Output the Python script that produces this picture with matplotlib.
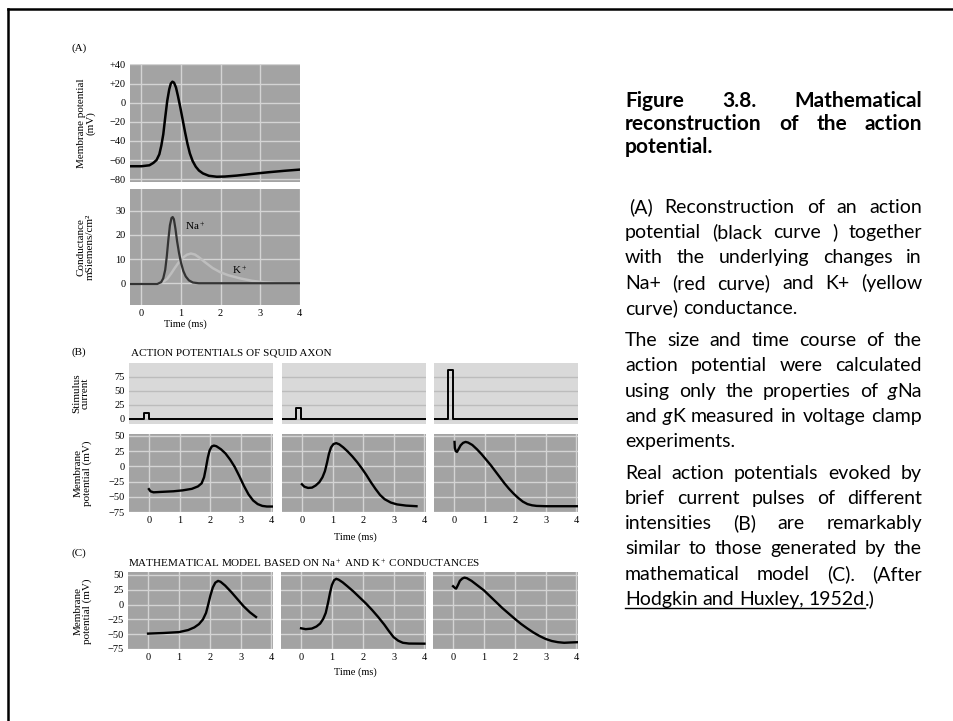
import matplotlib
matplotlib.use("Agg")
import matplotlib.pyplot as plt
from matplotlib.lines import Line2D

W, H = 954, 721

# ---------------- data ----------------
# (A) computed action potential (ms, mV)
ap_t = [-0.29, 0.0, 0.2, 0.3, 0.38, 0.45, 0.5, 0.55, 0.6, 0.65, 0.7, 0.74, 0.78,
        0.82, 0.87, 0.92, 0.98, 1.04, 1.1, 1.16, 1.22, 1.29, 1.37, 1.45, 1.55,
        1.7, 1.9, 2.1, 2.4, 2.8, 3.2, 3.6, 4.0]
ap_v = [-66.5, -66.5, -65.5, -63, -60, -54, -45, -33, -15, 2, 14, 20, 22,
        21, 16, 7, -5, -18, -31, -43, -53, -61, -67, -71, -74,
        -76.5, -77.5, -77.3, -76.3, -74.5, -72.8, -71.3, -70]

# (A) conductances (mS/cm2)
na_t = [-0.29, 0.4, 0.5, 0.55, 0.6, 0.64, 0.68, 0.72, 0.76, 0.79, 0.82, 0.86,
        0.9, 0.95, 1.0, 1.06, 1.12, 1.2, 1.3, 1.45, 4.0]
na_g = [-0.3, -0.3, 0.5, 2, 5.5, 11, 18, 24, 27, 27.4, 26.5, 22.5,
        17.5, 12.5, 8.5, 5, 2.8, 1.2, 0.3, 0, 0]
k_t = [0.45, 0.55, 0.65, 0.75, 0.85, 0.95, 1.05, 1.15, 1.25, 1.35, 1.45, 1.6,
       1.8, 2.0, 2.2, 2.5, 2.8, 3.1, 3.4, 4.0]
k_g = [0, 0.6, 1.8, 4, 6.5, 8.8, 10.6, 11.8, 12.3, 11.9, 10.8, 8.8,
       6.3, 4.5, 3.3, 2.0, 1.0, 0.4, 0.1, 0]

# (B) stimulus pulses: onset, offset (ms), amplitude
stim_on = [-0.16, -0.2, -0.19]
stim_off = [0.0, -0.02, -0.02]
stim_amp = [10, 20, 87]

# (B) recorded action potentials
b1_t = [0, 0.05, 0.15, 0.4, 0.8, 1.1, 1.4, 1.6, 1.72, 1.8, 1.86, 1.92, 1.98,
        2.05, 2.12, 2.2, 2.35, 2.5, 2.65, 2.8, 2.95, 3.1, 3.25, 3.4, 3.55,
        3.7, 3.85, 4.05]
b1_v = [-37.5, -41, -42.7, -42, -41, -39.5, -37, -33, -28, -18, -3, 14, 26,
        32.5, 34, 33, 28, 21, 11, -1, -16, -32, -46, -56, -62,
        -65, -66, -66]
b2_t = [0, 0.08, 0.2, 0.33, 0.45, 0.57, 0.67, 0.75, 0.82, 0.88, 0.95, 1.03,
        1.12, 1.22, 1.35, 1.5, 1.65, 1.8, 1.95, 2.1, 2.25, 2.4, 2.55, 2.7,
        2.9, 3.1, 3.4, 3.74]
b2_v = [-29.5, -33.5, -35.5, -35, -31.5, -26, -18, -8, 6, 20, 31, 36.5,
        38, 36, 31, 24, 16, 7, -3, -14, -26, -37, -47, -54,
        -59.5, -62.5, -64.5, -65.5]
b3_t = [0.02, 0.03, 0.06, 0.1, 0.15, 0.22, 0.3, 0.38, 0.46, 0.6, 0.75, 0.9,
        1.05, 1.2, 1.35, 1.5, 1.65, 1.8, 1.95, 2.1, 2.25, 2.4, 2.55, 2.7,
        3.0, 4.05]
b3_v = [40, 30, 25, 23.5, 28, 34.5, 38.5, 40, 39, 35, 28, 20,
        11, 2, -8, -18, -28, -37, -45, -52, -58, -62, -64, -65,
        -65.5, -65.5]

# (C) model action potentials
c1_t = [0, 0.5, 1.0, 1.3, 1.5, 1.65, 1.78, 1.88, 1.95, 2.02, 2.1, 2.18, 2.27,
        2.35, 2.5, 2.7, 2.9, 3.1, 3.3, 3.5]
c1_v = [-49, -48, -46.5, -43, -38.5, -33, -25, -14, 0, 15, 29, 37, 40,
        38.5, 32, 21, 9, -3, -13, -21]
c2_t = [0, 0.15, 0.35, 0.5, 0.62, 0.72, 0.8, 0.87, 0.94, 1.0, 1.07, 1.14,
        1.22, 1.35, 1.5, 1.7, 1.9, 2.1, 2.3, 2.5, 2.7, 2.85, 3.0, 3.15,
        3.3, 3.5, 4.0]
c2_v = [-40, -41.5, -40.5, -37, -32, -24, -14, 2, 20, 33, 41, 43.5,
        42, 37.5, 31, 22, 12, 2, -9, -21, -34, -45, -55, -61,
        -64.5, -65.8, -66]
c3_t = [0, 0.06, 0.1, 0.16, 0.22, 0.3, 0.37, 0.45, 0.6, 0.8, 1.0, 1.2, 1.4,
        1.6, 1.8, 2.0, 2.2, 2.4, 2.6, 2.8, 3.0, 3.2, 3.4, 3.6, 3.8, 4.05]
c3_v = [31, 28, 27, 33, 40, 44, 45.5, 44.5, 40, 32, 24, 14, 4,
        -6, -15, -24, -32.5, -40, -47, -53, -58, -61.5, -63.5, -64.5, -64, -63.5]

a1_ticks = [40, 20, 0, -20, -40, -60, -80]
a1_labels = ["+40", "+20", "0", "\u221220", "\u221240", "\u221260", "\u221280"]
a2_ticks = [0, 10, 20, 30]
stim_ticks = [0, 25, 50, 75]
mem_ticks = [50, 25, 0, -25, -50, -75]
time_ticks = [0, 1, 2, 3, 4]

# ---------------- styling ----------------
plt.rcParams["font.family"] = ["Liberation Serif", "DejaVu Serif"]
plt.rcParams["mathtext.fontset"] = "custom"
plt.rcParams["mathtext.rm"] = "Liberation Serif"
plt.rcParams["mathtext.it"] = "Liberation Serif:italic"

DARK_BG = "#a3a3a3"
LIGHT_BG = "#d9d9d9"
GRID_LIGHT = "#d4d4d4"
GRID_DARK = "#bcbcbc"
TICK_FS = 7.5

fig = plt.figure(figsize=(W / 100, H / 100), dpi=100)
fig.patch.set_facecolor("white")


def px_axes(l, t, r, b):
    return fig.add_axes([l / W, 1 - b / H, (r - l) / W, (b - t) / H])


def style(ax, bg, grid, xt, yt, show_x=False, show_y=False):
    ax.set_facecolor(bg)
    for s in ax.spines.values():
        s.set_visible(False)
    ax.set_xticks(xt)
    ax.set_yticks(yt)
    ax.tick_params(length=0, labelsize=TICK_FS, pad=3)
    ax.grid(True, color=grid, lw=1.0)
    ax.set_axisbelow(True)
    if not show_x:
        ax.set_xticklabels([])
    if not show_y:
        ax.set_yticklabels([])


def ftext(x, y, s, **kw):
    return fig.text(x / W, 1 - y / H, s, **kw)


# ---- (A) ----
ax = px_axes(130, 64, 300, 182)
style(ax, DARK_BG, GRID_LIGHT, [0, 1, 2, 3], a1_ticks, show_y=True)
ax.set_yticklabels(a1_labels)
ax.set_xlim(-0.29, 4.0)
ax.set_ylim(-83, 40.5)
ax.plot(ap_t, ap_v, color="black", lw=1.8)

ax = px_axes(130, 189, 300, 305)
style(ax, DARK_BG, GRID_LIGHT, time_ticks, a2_ticks, show_x=True, show_y=True)
ax.set_xlim(-0.29, 4.01)
ax.set_ylim(-9, 39)
ax.plot(k_t, k_g, color="#bebebe", lw=1.8)
ax.plot(na_t, na_g, color="#333333", lw=1.6)
ax.text(1.1, 23.5, "Na$^+$", fontsize=8, va="center")
ax.text(2.3, 5.5, "K$^+$", fontsize=8, va="center")

ftext(72, 48, "(A)", fontsize=8, va="center")
ftext(86, 123, "Membrane potential\n(mV)", fontsize=8, rotation=90,
      ha="center", va="center", linespacing=1.0)
ftext(86, 247, "Conductance\nmSiemens/cm\u00b2", fontsize=8, rotation=90,
      ha="center", va="center", linespacing=1.0)
ftext(185, 324, "Time (ms)", fontsize=7.5, ha="center", va="center")

# ---- (B) ----
b_cols = [(129, 273), (282, 426), (434, 578)]
b_curves = [(b1_t, b1_v), (b2_t, b2_v), (b3_t, b3_v)]
xl = (-0.65, 4.05)
for i, (l, r) in enumerate(b_cols):
    ax = px_axes(l, 363, r, 424)
    style(ax, LIGHT_BG, GRID_DARK, [], stim_ticks, show_y=(i == 0))
    ax.grid(False, axis="x")
    ax.set_xlim(*xl)
    ax.set_ylim(-9, 100)
    tr_t = [xl[0], stim_on[i], stim_on[i], stim_off[i], stim_off[i], xl[1]]
    tr_i = [0, 0, stim_amp[i], stim_amp[i], 0, 0]
    ax.plot(tr_t, tr_i, color="black", lw=1.4)

    ax = px_axes(l, 434, r, 512)
    style(ax, DARK_BG, GRID_LIGHT, time_ticks, mem_ticks, show_x=True, show_y=(i == 0))
    ax.set_xlim(*xl)
    ax.set_ylim(-75, 53)
    ax.plot(*b_curves[i], color="black", lw=1.7)

ftext(72, 352, "(B)", fontsize=8, va="center")
ftext(131, 353, "ACTION POTENTIALS OF SQUID AXON", fontsize=8, va="center")
ftext(81, 393, "Stimulus\ncurrent", fontsize=8, rotation=90,
      ha="center", va="center", linespacing=1.0)
ftext(83, 473, "Membrane\npotential (mV)", fontsize=8, rotation=90,
      ha="center", va="center", linespacing=1.0)
ftext(355, 537, "Time (ms)", fontsize=7.5, ha="center", va="center")

# ---- (C) ----
c_cols = [(128, 273), (281, 426), (433, 578)]
c_curves = [(c1_t, c1_v), (c2_t, c2_v), (c3_t, c3_v)]
for i, (l, r) in enumerate(c_cols):
    ax = px_axes(l, 572, r, 649)
    style(ax, DARK_BG, GRID_LIGHT, time_ticks, mem_ticks, show_x=True, show_y=(i == 0))
    ax.set_xlim(*xl)
    ax.set_ylim(-75, 55)
    ax.plot(*c_curves[i], color="black", lw=1.7)

ftext(72, 553, "(C)", fontsize=8, va="center")
ftext(128, 563, "MATHEMATICAL MODEL BASED ON Na$^+$ AND K$^+$ CONDUCTANCES",
      fontsize=8, va="center")
ftext(83, 611, "Membrane\npotential (mV)", fontsize=8, rotation=90,
      ha="center", va="center", linespacing=1.0)
ftext(355, 672, "Time (ms)", fontsize=7.5, ha="center", va="center")

# ---- frame ----
fig.add_artist(Line2D([8 / W, 1], [1 - 9 / H, 1 - 9 / H], color="black", lw=1.8))
fig.add_artist(Line2D([8 / W, 8 / W], [1 - 9 / H, 0], color="black", lw=1.8))

# ---- caption, justified ----
renderer = fig.canvas.get_renderer()
X0, X1 = 625, 922
SANS = ["Lato", "DejaVu Sans"]


def seg_width(t):
    return t.get_window_extent(renderer).width


def put_line(y, words, size, weight="normal", justify=True, x0=X0):
    placed = []
    for w in words:
        segs = w if isinstance(w, list) else [(w, "n")]
        items = []
        for s, st in segs:
            t = ftext(0, y, s, fontsize=size, family=SANS, weight=weight,
                      style="italic" if st == "i" else "normal", va="baseline")
            items.append((t, seg_width(t), st))
        placed.append(items)
    widths = [sum(it[1] for it in items) for items in placed]
    probe1 = ftext(0, y, "a a", fontsize=size, family=SANS, weight=weight)
    probe2 = ftext(0, y, "aa", fontsize=size, family=SANS, weight=weight)
    space = seg_width(probe1) - seg_width(probe2)
    probe1.remove()
    probe2.remove()
    if justify and len(words) > 1:
        gap = (X1 - x0 - sum(widths)) / (len(words) - 1)
    else:
        gap = space
    x = x0
    u_start = u_end = None
    for items in placed:
        for t, wd, st in items:
            t.set_x(x / W)
            if st == "u":
                if u_start is None:
                    u_start = x
                u_end = x + wd
            x += wd
        x += gap
    if u_start is not None:
        fig.add_artist(Line2D([u_start / W, u_end / W],
                              [1 - (y + 3) / H, 1 - (y + 3) / H],
                              color="black", lw=1.0))


TITLE_FS = 15
BODY_FS = 14

put_line(107, ["Figure", "3.8.", "Mathematical"], TITLE_FS, "bold")
put_line(130, ["reconstruction", "of", "the", "action"], TITLE_FS, "bold")
put_line(153, ["potential."], TITLE_FS, "bold", justify=False)

put_line(213, ["(A)", "Reconstruction", "of", "an", "action"], BODY_FS, x0=629)
put_line(238, ["potential", "(black", "curve", ")", "together"], BODY_FS)
put_line(263, ["with", "the", "underlying", "changes", "in"], BODY_FS)
put_line(289, ["Na+", "(red", "curve)", "and", "K+", "(yellow"], BODY_FS)
put_line(314, ["curve)", "conductance."], BODY_FS, justify=False)

put_line(346, ["The", "size", "and", "time", "course", "of", "the"], BODY_FS)
put_line(371, ["action", "potential", "were", "calculated"], BODY_FS)
put_line(397, ["using", "only", "the", "properties", "of",
               [("g", "i"), ("Na", "n")]], BODY_FS)
put_line(422, ["and", [("g", "i"), ("K", "n")], "measured", "in", "voltage",
               "clamp"], BODY_FS)
put_line(447, ["experiments."], BODY_FS, justify=False)

put_line(479, ["Real", "action", "potentials", "evoked", "by"], BODY_FS)
put_line(504, ["brief", "current", "pulses", "of", "different"], BODY_FS)
put_line(529, ["intensities", "(B)", "are", "remarkably"], BODY_FS)
put_line(554, ["similar", "to", "those", "generated", "by", "the"], BODY_FS)
put_line(580, ["mathematical", "model", "(C).", "(After"], BODY_FS)
put_line(605, [[("Hodgkin", "u")], [("and", "u")], [("Huxley,", "u")],
               [("1952d", "u"), (".)", "n")]], BODY_FS, justify=False)

fig.savefig("out.png", dpi=100)
